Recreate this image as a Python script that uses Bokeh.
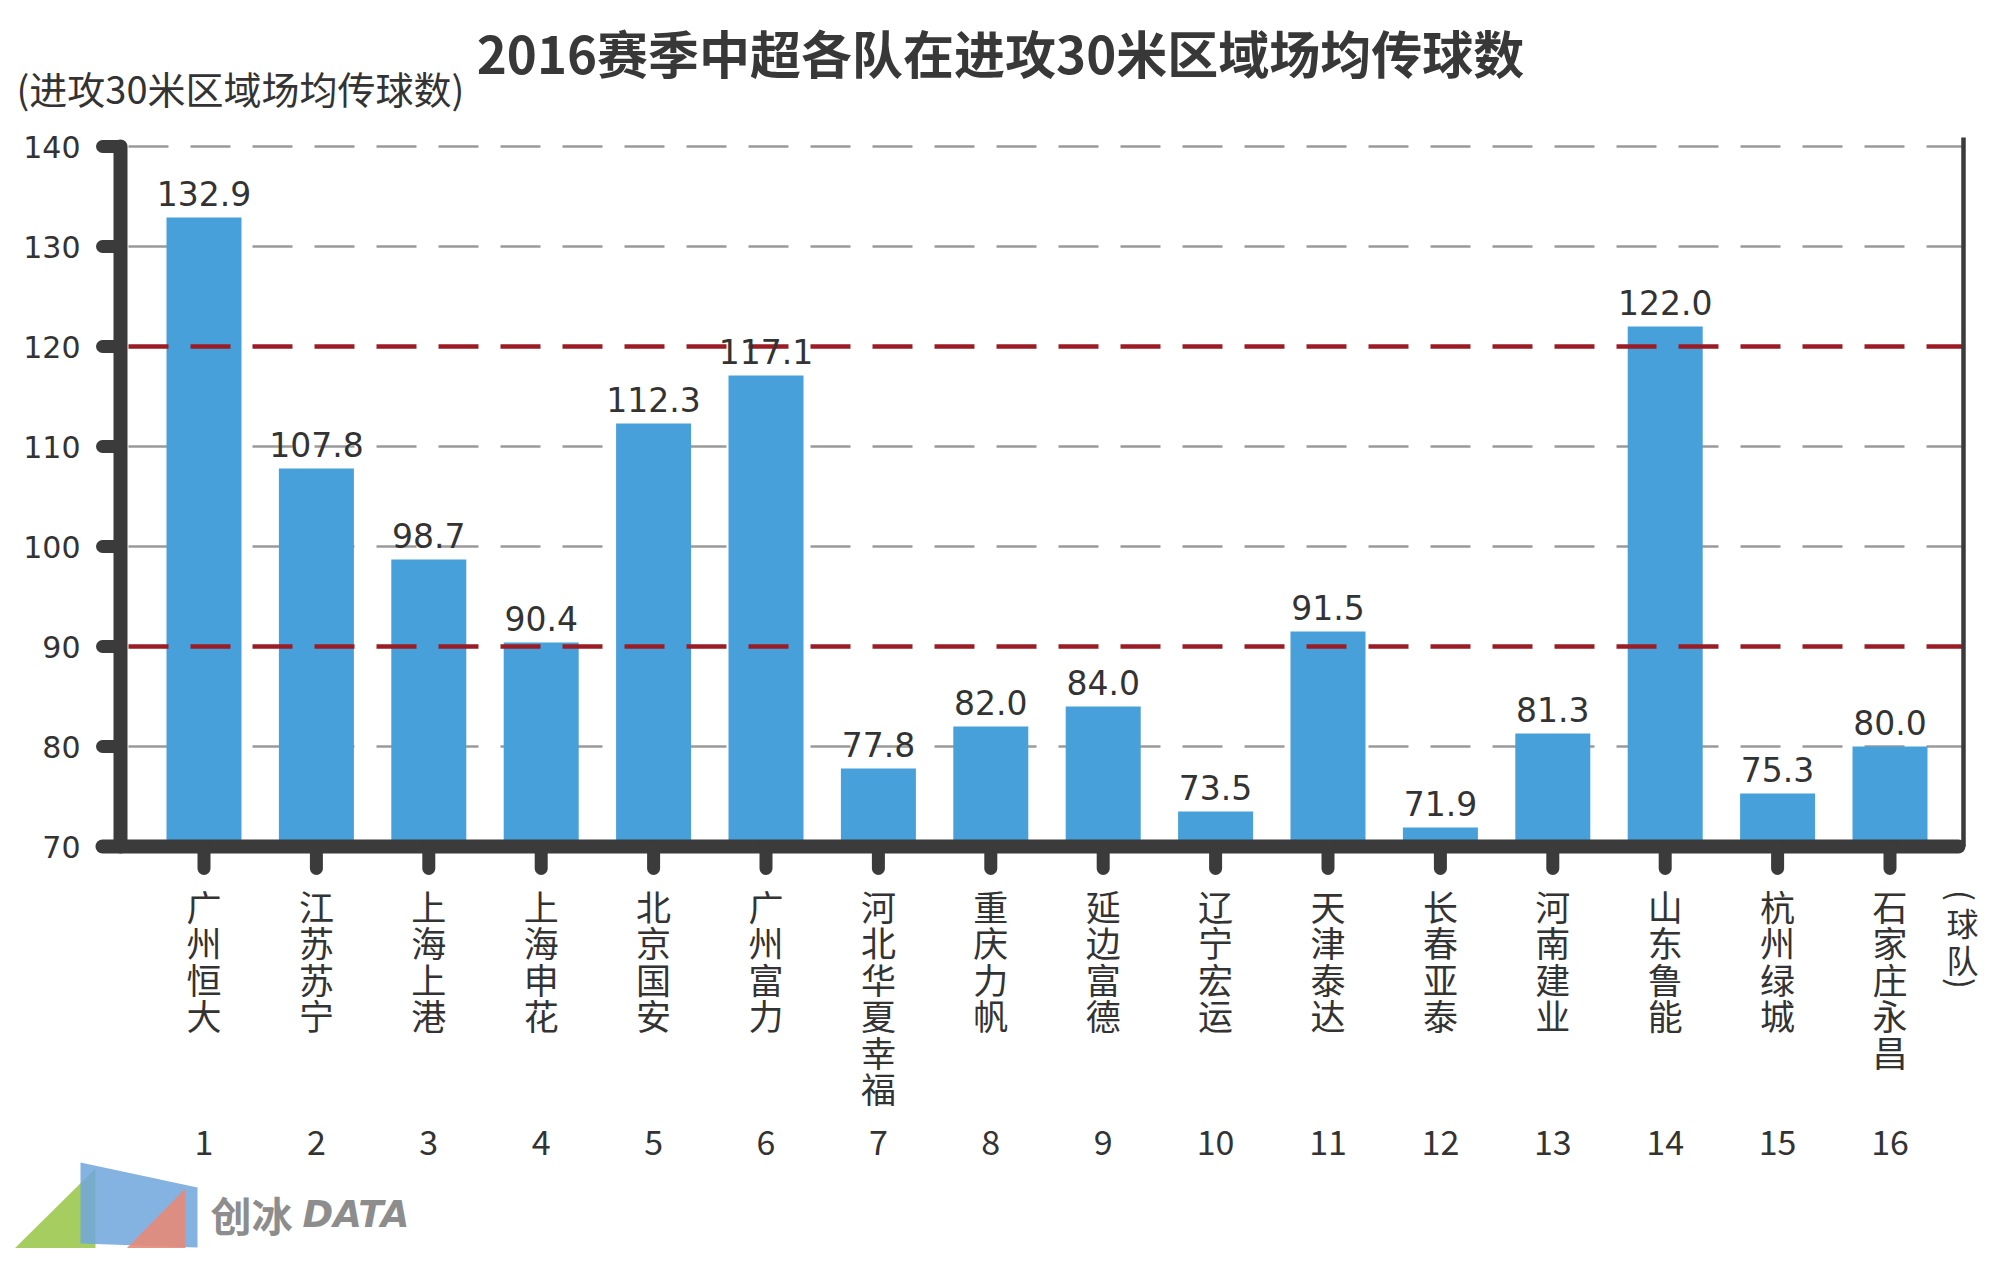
import math
from bokeh.plotting import figure
from bokeh.models import Range1d
from bokeh.core.properties import value
from bokeh.embed import file_html
from bokeh.resources import INLINE

# ---------------- data ----------------
teams = ["广州恒大", "江苏苏宁", "上海上港", "上海申花", "北京国安", "广州富力",
         "河北华夏幸福", "重庆力帆", "延边富德", "辽宁宏运", "天津泰达", "长春亚泰",
         "河南建业", "山东鲁能", "杭州绿城", "石家庄永昌"]
ranks = list(range(1, 17))
passes = [132.9, 107.8, 98.7, 90.4, 112.3, 117.1, 77.8, 82.0,
          84.0, 73.5, 91.5, 71.9, 81.3, 122.0, 75.3, 80.0]
y_ticks = [70, 80, 90, 100, 110, 120, 130, 140]
grid_values = [80, 100, 110, 130, 140]
ref_values = [90, 120]
title_text = "2016赛季中超各队在进攻30米区域场均传球数"
y_title = "(进攻30米区域场均传球数)"
x_title = "(球队)"
brand_cn = "创冰"
brand_en = "DATA"

# ---------------- layout (reference pixels -> data) ----------------
FIG_W, FIG_H, ORIGIN = 1984, 1248, 0
X0, DX = 203.5, 112.4      # px of category 1 centre, px per category
Y70, PPU = 846.0, 10.0     # px of value 70, px per unit
CHAR_STEP = 36.4           # px between stacked label characters


def X(px):
    return 1 + (px - X0) / DX


def Y(py):
    return 70 + (Y70 - py) / PPU


AXIS = "#3b3b3b"
TXT = "#333333"
CJK = value("Noto Sans CJK SC")
LAT = value("DejaVu Sans")

p = figure(width=FIG_W, height=FIG_H, output_backend="svg", toolbar_location=None,
           x_range=Range1d(X(ORIGIN), X(ORIGIN + FIG_W)),
           y_range=Range1d(Y(ORIGIN + FIG_H), Y(ORIGIN)),
           x_axis_location=None, y_axis_location=None, min_border=0)
p.grid.visible = False
p.outline_line_color = None
p.background_fill_color = "white"
p.border_fill_color = "white"

# grid lines
p.segment(x0=[X(128)] * len(grid_values), x1=[X(1963)] * len(grid_values),
          y0=grid_values, y1=grid_values, line_color="#9a9a9a", line_width=2.5,
          line_dash="40 22")

# bars
p.vbar(x=ranks, top=passes, bottom=70, width=75 / DX, fill_color="#47a0da",
       line_color=None)

# reference (red) lines
p.segment(x0=[X(128)] * len(ref_values), x1=[X(1963)] * len(ref_values),
          y0=ref_values, y1=ref_values, line_color="#9b1c24", line_width=4.5,
          line_dash="40 22")

# right border
p.segment(x0=[X(1963)], x1=[X(1963)], y0=[Y(137)], y1=[70], line_color=AXIS,
          line_width=4.5)

# y axis line + ticks
p.segment(x0=[X(120)], x1=[X(120)], y0=[max(y_ticks)], y1=[min(y_ticks)],
          line_color=AXIS, line_width=14, line_cap="round")
p.segment(x0=[X(102)] * len(y_ticks), x1=[X(120)] * len(y_ticks),
          y0=y_ticks, y1=y_ticks, line_color=AXIS, line_width=13, line_cap="round")

# x axis line + ticks
p.segment(x0=[X(102)], x1=[X(1958)], y0=[70], y1=[70], line_color=AXIS,
          line_width=14, line_cap="round")
p.segment(x0=ranks, x1=ranks, y0=[70] * len(ranks), y1=[Y(868)] * len(ranks),
          line_color=AXIS, line_width=13, line_cap="round")

# y tick labels
p.text(x=[X(80)] * len(y_ticks), y=y_ticks, text=[str(t) for t in y_ticks],
       text_align="right", text_baseline="middle", text_font=LAT,
       text_font_size="30px", text_color=TXT)

# value labels (text centre ~24px above bar top)
p.text(x=ranks, y=[v + 24 / PPU for v in passes], text=[f"{v:.1f}" for v in passes],
       text_align="center", text_baseline="middle", text_font=LAT,
       text_font_size="33px", text_color=TXT)

# category labels, stacked vertically one character per line
cx, cy, ct = [], [], []
for r, name in zip(ranks, teams):
    for k, ch in enumerate(name):
        cx.append(r)
        cy.append(Y(905 + k * CHAR_STEP))
        ct.append(ch)
p.text(x=cx, y=cy, text=ct, text_align="center", text_baseline="middle",
       text_font=CJK, text_font_size="35px", text_color=TXT)

# rank numbers
p.text(x=ranks, y=[Y(1142)] * len(ranks), text=[str(r) for r in ranks],
       text_align="center", text_baseline="middle", text_font=CJK,
       text_font_size="34px", text_color=TXT)

# x title, stacked vertically: brackets turned, characters upright
xt_chars = list(x_title)
xt_y = [Y(895), Y(921), Y(958), Y(983)]
xt_ang = [-math.pi / 2 if ch in "()" else 0.0 for ch in xt_chars]
p.text(x=[X(1962)] * len(xt_chars), y=xt_y, text=xt_chars, angle=xt_ang,
       text_align="center", text_baseline="middle", text_font=CJK,
       text_font_size="32px", text_color=TXT)

# y title
p.text(x=[X(16)], y=[Y(87)], text=[y_title], text_align="left",
       text_baseline="middle", text_font=CJK, text_font_size="38px",
       text_color=TXT)

# chart title
p.text(x=[X(1000)], y=[Y(51)], text=[title_text], text_align="center",
       text_baseline="middle", text_font=CJK, text_font_style="bold",
       text_font_size="51px", text_color="#383838")

# brand logo (decoration)
p.patch(x=[X(10), X(95), X(95)], y=[Y(1252), Y(1168), Y(1252)],
        fill_color="#9cc84e", line_color=None, fill_alpha=0.9)
p.patch(x=[X(80), X(197), X(197), X(80)], y=[Y(1162), Y(1187), Y(1247), Y(1243)],
        fill_color="#6ea6dd", line_color=None, fill_alpha=0.85)
p.patch(x=[X(185), X(122), X(185)], y=[Y(1188), Y(1252), Y(1252)],
        fill_color="#e58a78", line_color=None, fill_alpha=0.9)
p.text(x=[X(210)], y=[Y(1213)], text=[brand_cn], text_align="left",
       text_baseline="middle", text_font=CJK, text_font_style="bold",
       text_font_size="41px", text_color="#8d8d8d")
p.text(x=[X(302)], y=[Y(1214)], text=[brand_en], text_align="left",
       text_baseline="middle", text_font=LAT, text_font_style="bold italic",
       text_font_size="37px", text_color="#8d8d8d")

open("out.html", "w").write(file_html(p, INLINE))
